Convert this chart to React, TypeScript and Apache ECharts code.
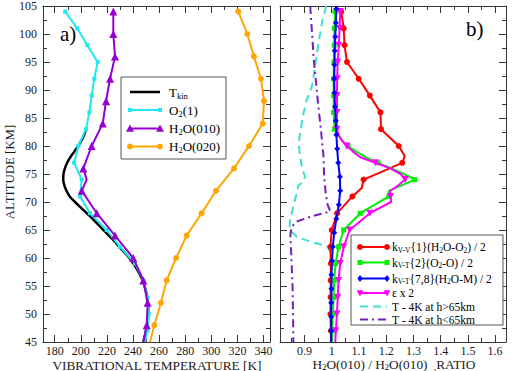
import React, { useEffect, useRef } from "react";
import * as echarts from "echarts";

const SERIF = "Liberation Serif, Times New Roman, Times, serif";
const FRAME = "#333333";

// ---------- Panel a) vibrational temperature profiles [K] ----------
const tkinAlt = [83, 82, 81, 80, 79, 78, 77, 76, 75, 74, 73, 72, 71, 70, 69, 68, 67, 66, 65, 64, 63, 62, 61, 60, 58, 56, 54, 52, 50, 48, 46, 45];
const tkinTemp = [204, 202.6, 200.5, 198, 195, 192, 189.5, 187.8, 186.7, 186.5, 187.3, 189, 191.5, 195.5, 200, 204.5, 209, 213.2, 217.2, 221.5, 225.8, 229.5, 233.5, 237.2, 243, 247.3, 250, 251.4, 251.7, 250.8, 249, 247.9];

const o2Alt = [104, 101, 98, 95, 92, 89, 86, 83, 80, 77, 74, 71, 68, 65, 62, 59, 56, 53, 50, 47, 45];
const o2Temp = [188, 197.3, 205, 212.9, 210.3, 208.3, 206.5, 204, 198.1, 194.8, 200.7, 199.4, 207, 219.8, 230, 241.5, 247.9, 251, 252, 251, 249.2];

const h2o010Alt = [104, 100, 96, 92, 88, 84, 80, 76, 74, 72, 68, 64, 60, 56, 52, 48, 45];
const h2o010Temp = [224.9, 224.9, 226.2, 222.4, 219.3, 216.8, 208.3, 201.9, 204.5, 200.7, 212.2, 226.2, 240.2, 247.9, 251.2, 250.5, 247.9];

const h2o020Alt = [104, 100, 96, 92, 88, 84, 80, 76, 72, 68, 64, 60, 56, 52, 48, 45];
const h2o020Temp = [320.7, 327.6, 332.7, 338.1, 340.4, 339.4, 328.9, 317.4, 303.6, 292.6, 281.1, 273, 265.8, 261.4, 256.3, 253];

// ---------- Panel b) H2O(010) population ratios ----------
const kvvAlt = [104, 101, 98, 95, 92, 89, 86, 83, 80, 78.2, 77, 74, 72.5, 71, 68, 65, 62, 59, 56, 53, 50, 47, 45];
const kvvRatio = [1.035, 1.044, 1.047, 1.056, 1.099, 1.14, 1.179, 1.181, 1.246, 1.268, 1.259, 1.117, 1.11, 1.076, 1.02, 1.0, 0.995, 0.997, 0.996, 0.996, 0.995, 0.997, 0.997];

const kvtOAlt = [104, 101, 98, 95, 92, 89, 86, 83, 82, 81, 80, 79, 78, 77, 76, 75, 74, 72, 71, 68, 65, 62, 59, 56, 53, 50, 47, 45];
const kvtORatio = [1.012, 1.01, 1.009, 1.008, 1.007, 1.007, 1.007, 1.01, 1.022, 1.038, 1.06, 1.09, 1.125, 1.17, 1.22, 1.265, 1.305, 1.21, 1.21, 1.105, 1.044, 1.025, 1.014, 1.009, 1.007, 1.004, 1.002, 1.001];

const kvtMAlt = [104.5, 102, 99.5, 97, 94.5, 92, 89.5, 87, 84.5, 82, 79.5, 77, 74.5, 72, 69.5, 67, 64.5, 62, 59.5, 57, 54.5, 52, 49.5, 47, 45];
const kvtMRatio = [1.017, 1.015, 1.013, 1.011, 1.01, 1.009, 1.01, 1.012, 1.015, 1.017, 1.02, 1.024, 1.03, 1.031, 1.026, 1.017, 1.009, 1.004, 1.001, 0.999, 0.999, 0.998, 0.998, 0.998, 0.998];

const epsAlt = [104, 101, 98, 95, 92, 89, 86, 83, 82, 81, 80, 79, 78, 77, 76, 75, 74, 73, 72, 71, 70, 68, 65, 62, 59, 56, 53, 50, 47, 45];
const epsRatio = [1.031, 1.029, 1.026, 1.022, 1.02, 1.019, 1.019, 1.019, 1.025, 1.037, 1.055, 1.078, 1.105, 1.16, 1.215, 1.253, 1.27, 1.245, 1.215, 1.216, 1.218, 1.14, 1.066, 1.044, 1.031, 1.025, 1.022, 1.019, 1.015, 1.013];

const tHighAlt = [105, 102.5, 98.3, 94.2, 90.6, 88.2, 85.8, 82.9, 80.5, 78.1, 76.3, 74.5, 73.6, 73, 71.5, 69.2, 66.8, 65, 63.8, 62.9, 62.3, 62, 61, 55, 45];
const tHighRatio = [0.98, 0.966, 0.951, 0.939, 0.927, 0.908, 0.896, 0.886, 0.878, 0.884, 0.89, 0.902, 0.896, 0.878, 0.871, 0.859, 0.847, 0.845, 0.872, 0.921, 0.97, 0.985, 0.995, 0.998, 0.998];

const tLowAlt = [105, 100, 96, 91, 87, 84, 81, 78, 74.5, 71.5, 69.5, 68.3, 67.5, 66.5, 65.5, 64, 60, 55, 50, 45];
const tLowRatio = [0.921, 0.928, 0.933, 0.943, 0.951, 0.958, 0.964, 0.97, 0.972, 0.978, 0.985, 0.995, 0.93, 0.87, 0.852, 0.848, 0.852, 0.856, 0.858, 0.859];

// ---------- Axis ticks ----------
const tempMajor = [180, 200, 220, 240, 260, 280, 300, 320, 340];
const tempMinor = [190, 210, 230, 250, 270, 290, 310, 330];
const ratioMajor = [0.9, 1, 1.1, 1.2, 1.3, 1.4, 1.5, 1.6];
const ratioMinor = [0.85, 0.95, 1.05, 1.15, 1.25, 1.35, 1.45, 1.55];

const COLORS = {
  tkin: "#000000",
  o2: "#1ee8f2",
  h2o010: "#9400d3",
  h2o020: "#ffa500",
  kvv: "#ff0000",
  kvtO: "#00f000",
  kvtM: "#0000ff",
  eps: "#ff00ff",
  tHigh: "#40e0d0",
  tLow: "#7221bc",
};

function points(alt: number[], val: number[], markTop?: number, markStep?: number) {
  return alt.map((h, i) => {
    if (markTop === undefined || markStep === undefined) return [val[i], h];
    const k = (markTop - h) / markStep;
    const marked = Math.abs(k - Math.round(k)) < 1e-6;
    return marked ? [val[i], h] : { value: [val[i], h], symbol: "none" };
  });
}

function line(panel: number, data: any[], color: string, o: any = {}) {
  return {
    type: "line",
    xAxisIndex: panel === 0 ? 0 : 4,
    yAxisIndex: panel === 0 ? 0 : 2,
    data,
    symbol: o.symbol || "none",
    symbolSize: o.size || 6,
    symbolRotate: o.rotate || 0,
    smooth: o.smooth || false,
    itemStyle: { color },
    lineStyle: { color, width: o.width || 2, type: o.dash || "solid" },
    emphasis: { disabled: true },
    z: o.z || 2,
  };
}

function xAxes(gridIndex: number, min: number, max: number, major: number[], minor: number[], fmt: (v: number) => string) {
  const base = { type: "value", gridIndex, min, max, splitLine: { show: false } };
  const tick = (vals: number[], len: number) => ({
    show: true,
    inside: true,
    length: len,
    customValues: vals,
    lineStyle: { color: FRAME, width: 1 },
  });
  return [
    {
      ...base,
      position: "bottom",
      axisLine: { show: true, onZero: false, lineStyle: { color: FRAME, width: 1 } },
      axisTick: tick(major, 7),
      axisLabel: { show: true, customValues: major, formatter: fmt, margin: 3, fontSize: 12, fontFamily: SERIF, color: "#1a1a1a" },
    },
    { ...base, position: "bottom", axisLine: { show: false, onZero: false }, axisTick: tick(minor, 4), axisLabel: { show: false } },
    {
      ...base,
      position: "top",
      axisLine: { show: true, onZero: false, lineStyle: { color: FRAME, width: 1 } },
      axisTick: tick(major, 7),
      axisLabel: { show: false },
    },
    { ...base, position: "top", axisLine: { show: false, onZero: false }, axisTick: tick(minor, 4), axisLabel: { show: false } },
  ];
}

function yAxes(gridIndex: number, labels: boolean) {
  const base = {
    type: "value",
    gridIndex,
    min: 45,
    max: 105,
    interval: 5,
    splitLine: { show: false },
    axisLine: { show: true, onZero: false, lineStyle: { color: FRAME, width: 1 } },
    axisTick: { show: true, inside: true, length: 7, lineStyle: { color: FRAME, width: 1 } },
    minorTick: { show: true, splitNumber: 2, length: 4, lineStyle: { color: FRAME, width: 1 } },
    minorSplitLine: { show: false },
  };
  return [
    {
      ...base,
      position: "left",
      axisLabel: { show: labels, margin: 6, fontSize: 12, fontFamily: SERIF, color: "#1a1a1a" },
    },
    { ...base, position: "right", axisLabel: { show: false } },
  ];
}

function marker(kind: string, cx: number, cy: number, size: number, color: string): any {
  const r = size / 2;
  if (kind === "circle") return { type: "circle", shape: { cx, cy, r }, style: { fill: color }, z: 102 };
  if (kind === "rect") return { type: "rect", shape: { x: cx - r, y: cy - r, width: size, height: size }, style: { fill: color }, z: 102 };
  if (kind === "triangle")
    return { type: "polygon", shape: { points: [[cx, cy - r], [cx + r, cy + r * 0.8], [cx - r, cy + r * 0.8]] }, style: { fill: color }, z: 102 };
  if (kind === "downTriangle")
    return { type: "polygon", shape: { points: [[cx, cy + r], [cx + r, cy - r * 0.8], [cx - r, cy - r * 0.8]] }, style: { fill: color }, z: 102 };
  return { type: "polygon", shape: { points: [[cx, cy - r], [cx + r * 0.75, cy], [cx, cy + r], [cx - r * 0.75, cy]] }, style: { fill: color }, z: 102 };
}

const subRich = (size: number) => ({
  s: { fontSize: size, fontFamily: SERIF, fill: "#000", verticalAlign: "bottom", lineHeight: size + 1 },
});

type LegendItem = { label: string; color: string; width: number; dash?: number[]; symbol?: string; size?: number; y: number };

function legendBox(x: number, y: number, w: number, h: number, items: LegendItem[], x0: number, x1: number, tx: number, fontSize: number, subSize: number) {
  const els: any[] = [
    { type: "rect", shape: { x, y, width: w, height: h }, style: { fill: "#fff", stroke: "#555", lineWidth: 1 }, z: 100 },
  ];
  items.forEach((it) => {
    els.push({
      type: "line",
      shape: { x1: x0, y1: it.y, x2: x1, y2: it.y },
      style: { stroke: it.color, lineWidth: it.width, lineDash: it.dash || null },
      z: 101,
    });
    if (it.symbol) {
      els.push(marker(it.symbol, x0, it.y, it.size || 6, it.color));
      els.push(marker(it.symbol, x1, it.y, it.size || 6, it.color));
    }
    els.push({
      type: "text",
      x: tx,
      y: it.y,
      z: 103,
      style: {
        text: it.label,
        fill: "#000",
        fontSize,
        fontFamily: SERIF,
        lineHeight: fontSize + 3,
        textVerticalAlign: "middle",
        rich: subRich(subSize),
      },
    });
  });
  return els;
}

const leftLegend: LegendItem[] = [
  { label: "T{s|kin}", color: COLORS.tkin, width: 2.5, y: 92 },
  { label: "O{s|2}(1)", color: COLORS.o2, width: 2, symbol: "rect", size: 4, y: 110 },
  { label: "H{s|2}O(010)", color: COLORS.h2o010, width: 2, symbol: "triangle", size: 8, y: 128.5 },
  { label: "H{s|2}O(020)", color: COLORS.h2o020, width: 2, symbol: "circle", size: 6, y: 146.5 },
];

const rightLegend: LegendItem[] = [
  { label: "k{s|V-V}{1}(H{s|2}O-O{s|2}) / 2", color: COLORS.kvv, width: 2, symbol: "circle", size: 6, y: 247 },
  { label: "k{s|V-T}{2}(O{s|2}-O) / 2", color: COLORS.kvtO, width: 2, symbol: "rect", size: 5, y: 262.5 },
  { label: "k{s|V-T}{7,8}(H{s|2}O-M) / 2", color: COLORS.kvtM, width: 2, symbol: "diamond", size: 7, y: 278.5 },
  { label: "ε x 2", color: COLORS.eps, width: 2, symbol: "downTriangle", size: 7, y: 293 },
  { label: "T - 4K at h>65km", color: COLORS.tHigh, width: 2, dash: [8, 5], y: 306.5 },
  { label: "T - 4K at h<65km", color: COLORS.tLow, width: 2, dash: [8, 4, 2, 4], y: 319.5 },
];

function buildOption(): any {
  const fmtTemp = (v: number) => String(Math.round(v));
  const fmtRatio = (v: number) => String(Number(v.toFixed(2)));
  return {
    animation: false,
    backgroundColor: "#ffffff",
    textStyle: { fontFamily: SERIF },
    grid: [
      { left: 43, top: 6, width: 227, height: 336, show: false },
      { left: 280, top: 6, width: 226, height: 336, show: false },
    ],
    xAxis: [...xAxes(0, 171, 345, tempMajor, tempMinor, fmtTemp), ...xAxes(1, 0.81, 1.64, ratioMajor, ratioMinor, fmtRatio)],
    yAxis: [...yAxes(0, true), ...yAxes(1, false)],
    series: [
      line(0, points(tkinAlt, tkinTemp), COLORS.tkin, { width: 2.5, smooth: 0.3, z: 2 }),
      line(0, points(o2Alt, o2Temp, 104, 3), COLORS.o2, { symbol: "rect", size: 4, z: 3 }),
      line(0, points(h2o010Alt, h2o010Temp, 104, 4), COLORS.h2o010, { symbol: "triangle", size: 8, z: 4 }),
      line(0, points(h2o020Alt, h2o020Temp, 104, 4), COLORS.h2o020, { symbol: "circle", size: 6, z: 4 }),

      line(1, points(tHighAlt, tHighRatio), COLORS.tHigh, { dash: [8, 5], z: 2 }),
      line(1, points(tLowAlt, tLowRatio), COLORS.tLow, { dash: [8, 4, 2, 4], z: 2 }),
      line(1, points(kvvAlt, kvvRatio, 104, 3), COLORS.kvv, { symbol: "circle", size: 6, z: 3 }),
      line(1, points(kvtOAlt, kvtORatio, 104, 3), COLORS.kvtO, { symbol: "rect", size: 5, z: 4 }),
      line(1, points(epsAlt, epsRatio, 104, 3), COLORS.eps, { symbol: "triangle", rotate: 180, size: 7, z: 5 }),
      line(1, points(kvtMAlt, kvtMRatio, 104.5, 2.5), COLORS.kvtM, { symbol: "diamond", size: 6, z: 6 }),
    ],
    graphic: [
      {
        type: "text",
        x: 10,
        y: 172,
        rotation: Math.PI / 2,
        style: { text: "ALTITUDE [KM]", fontSize: 12.8, fontFamily: SERIF, fill: "#1a1a1a", textAlign: "center", textVerticalAlign: "middle" },
      },
      {
        type: "text",
        x: 157,
        y: 365,
        style: { text: "VIBRATIONAL TEMPERATURE [K]", fontSize: 13.3, fontFamily: SERIF, fill: "#1a1a1a", textAlign: "center", textVerticalAlign: "middle" },
      },
      {
        type: "text",
        x: 394,
        y: 364,
        style: {
          text: "H{s|2}O(010) / H{s|2}O(010)  {s|,}RATIO",
          fontSize: 13.3,
          fontFamily: SERIF,
          fill: "#1a1a1a",
          lineHeight: 15,
          textAlign: "center",
          textVerticalAlign: "middle",
          rich: subRich(8.5),
        },
      },
      { type: "text", x: 60, y: 34, style: { text: "a)", fontSize: 21, fontFamily: SERIF, fill: "#000", textVerticalAlign: "middle" }, z: 100 },
      { type: "text", x: 466, y: 29, style: { text: "b)", fontSize: 21, fontFamily: SERIF, fill: "#000", textVerticalAlign: "middle" }, z: 100 },
      ...legendBox(121, 77, 105, 82, leftLegend, 130, 160, 169, 13, 8.5),
      ...legendBox(351, 235, 152, 90, rightLegend, 360, 387, 392, 11.5, 7.5),
    ],
  };
}

export default function App() {
  const ref = useRef<HTMLDivElement>(null);
  useEffect(() => {
    if (!ref.current) return;
    const chart = echarts.init(ref.current, null, { renderer: "svg", width: 513, height: 371 });
    chart.setOption(buildOption());
    return () => chart.dispose();
  }, []);
  return (
    <div
      ref={ref}
      style={{ position: "fixed", left: 0, top: 0, width: 513, height: 371, background: "#ffffff" }}
    />
  );
}
